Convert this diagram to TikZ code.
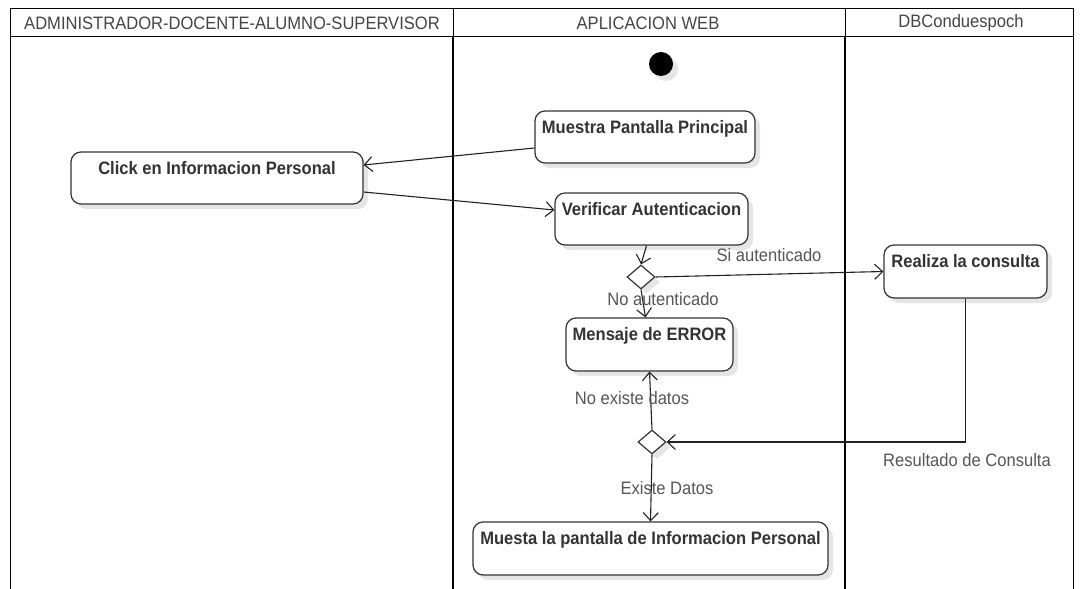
\documentclass[tikz,border=0pt]{standalone}
\usepackage{fontspec}
\setmainfont[FakeStretch=0.92]{Liberation Sans}
\usetikzlibrary{arrows.meta,shapes.geometric,shadows}
\definecolor{edgec}{HTML}{222222}
\definecolor{lblc}{HTML}{555555}
\definecolor{boxc}{HTML}{333333}
\definecolor{hdrc}{HTML}{444444}
\begin{document}
\begin{tikzpicture}[x=1pt,y=-1pt,
  shd/.style={drop shadow={shadow xshift=5pt, shadow yshift=-5pt, fill=black!10, opacity=1}},
  act/.style={draw=boxc, line width=1.2pt, rounded corners=10pt, fill=white, shd, inner sep=0},
  acttxt/.style={font=\fontsize{18}{20}\selectfont\bfseries, text=boxc, anchor=base, yshift=-23pt, inner sep=0},
  dec/.style={diamond, draw=boxc, line width=1.2pt, fill=white, minimum width=28pt, minimum height=24pt, inner sep=0, shd},
  flow/.style={draw=edgec, line width=1.1pt, -{Straight Barb[length=8pt,width=15pt,line width=1.1pt]}},
  lbl/.style={font=\fontsize{18}{20}\selectfont, text=lblc, inner sep=1pt},
  hdr/.style={font=\fontsize{18}{20}\selectfont, text=hdrc, inner sep=0},
  thinline/.style={draw=black, line width=0.9pt},
  lane/.style={draw=black, line width=2.8pt}
]
\useasboundingbox (0,0) rectangle (1082,589);

% swimlane frame
\draw[thinline] (10,8) -- (1073,8);
\draw[thinline] (10,36) -- (1073,36);
\draw[thinline] (10,8) -- (10,589);
\draw[thinline] (1073,8) -- (1073,589);
\draw[thinline] (453,8) -- (453,36);
\draw[thinline] (845,8) -- (845,36);
\draw[lane] (453,36) -- (453,589);
\draw[lane] (845,36) -- (845,589);

\node[hdr] (h1) at (232,23) {ADMINISTRADOR-DOCENTE-ALUMNO-SUPERVISOR};
\node[hdr] (h2) at (648,23) {APLICACION WEB};
\node[hdr] (h3) at (961,23) {DBConduespoch};

% initial node
\node[circle, fill=black, minimum size=24pt, inner sep=0, shd] (init) at (661,64) {};

% activities
\node[act, minimum width=220pt, minimum height=52pt,
  label={[acttxt]north:Muestra Pantalla Principal}] (mpp) at (645,137) {};
\node[act, minimum width=292pt, minimum height=52pt,
  label={[acttxt]north:Click en Informacion Personal}] (click) at (217,178) {};
\node[act, minimum width=193pt, minimum height=52pt,
  label={[acttxt]north:Verificar Autenticacion}] (ver) at (651.5,219) {};
\node[act, minimum width=163pt, minimum height=53pt,
  label={[acttxt]north:Realiza la consulta}] (real) at (965.5,271.5) {};
\node[act, minimum width=167pt, minimum height=53pt,
  label={[acttxt]north:Mensaje de ERROR}] (err) at (649.5,344.5) {};
\node[act, minimum width=355pt, minimum height=53pt,
  label={[acttxt]north:Muesta la pantalla de Informacion Personal}] (pers) at (650.5,548.5) {};

% decisions
\node[dec] (d1) at (641,277) {};
\node[dec] (d2) at (652,442) {};

% flows
\draw[flow] ([yshift=-11pt]mpp.west) -- ([yshift=13pt]click.east);
\draw[flow] ([yshift=-14pt]click.east) -- ([yshift=9pt]ver.west);
\draw[flow] ([xshift=-5pt]ver.south) -- (d1.north);
\draw[flow] (d1.east) -- (real.west);
\draw[flow] (d1.south) -- ([xshift=-4pt]err.north);
\draw[flow] (real.south) |- (d2.east);
\draw[flow] (d2.north) -- (err.south);
\draw[flow] (d2.south) -- (pers.north);

% flow labels
\node[lbl] (l1) at (769,255) {Si autenticado};
\node[lbl] (l2) at (663,299) {No autenticado};
\node[lbl] (l3) at (632,398) {No existe datos};
\node[lbl] (l4) at (667,488) {Existe Datos};
\node[lbl] (l5) at (967,460) {Resultado de Consulta};
\end{tikzpicture}
\end{document}
